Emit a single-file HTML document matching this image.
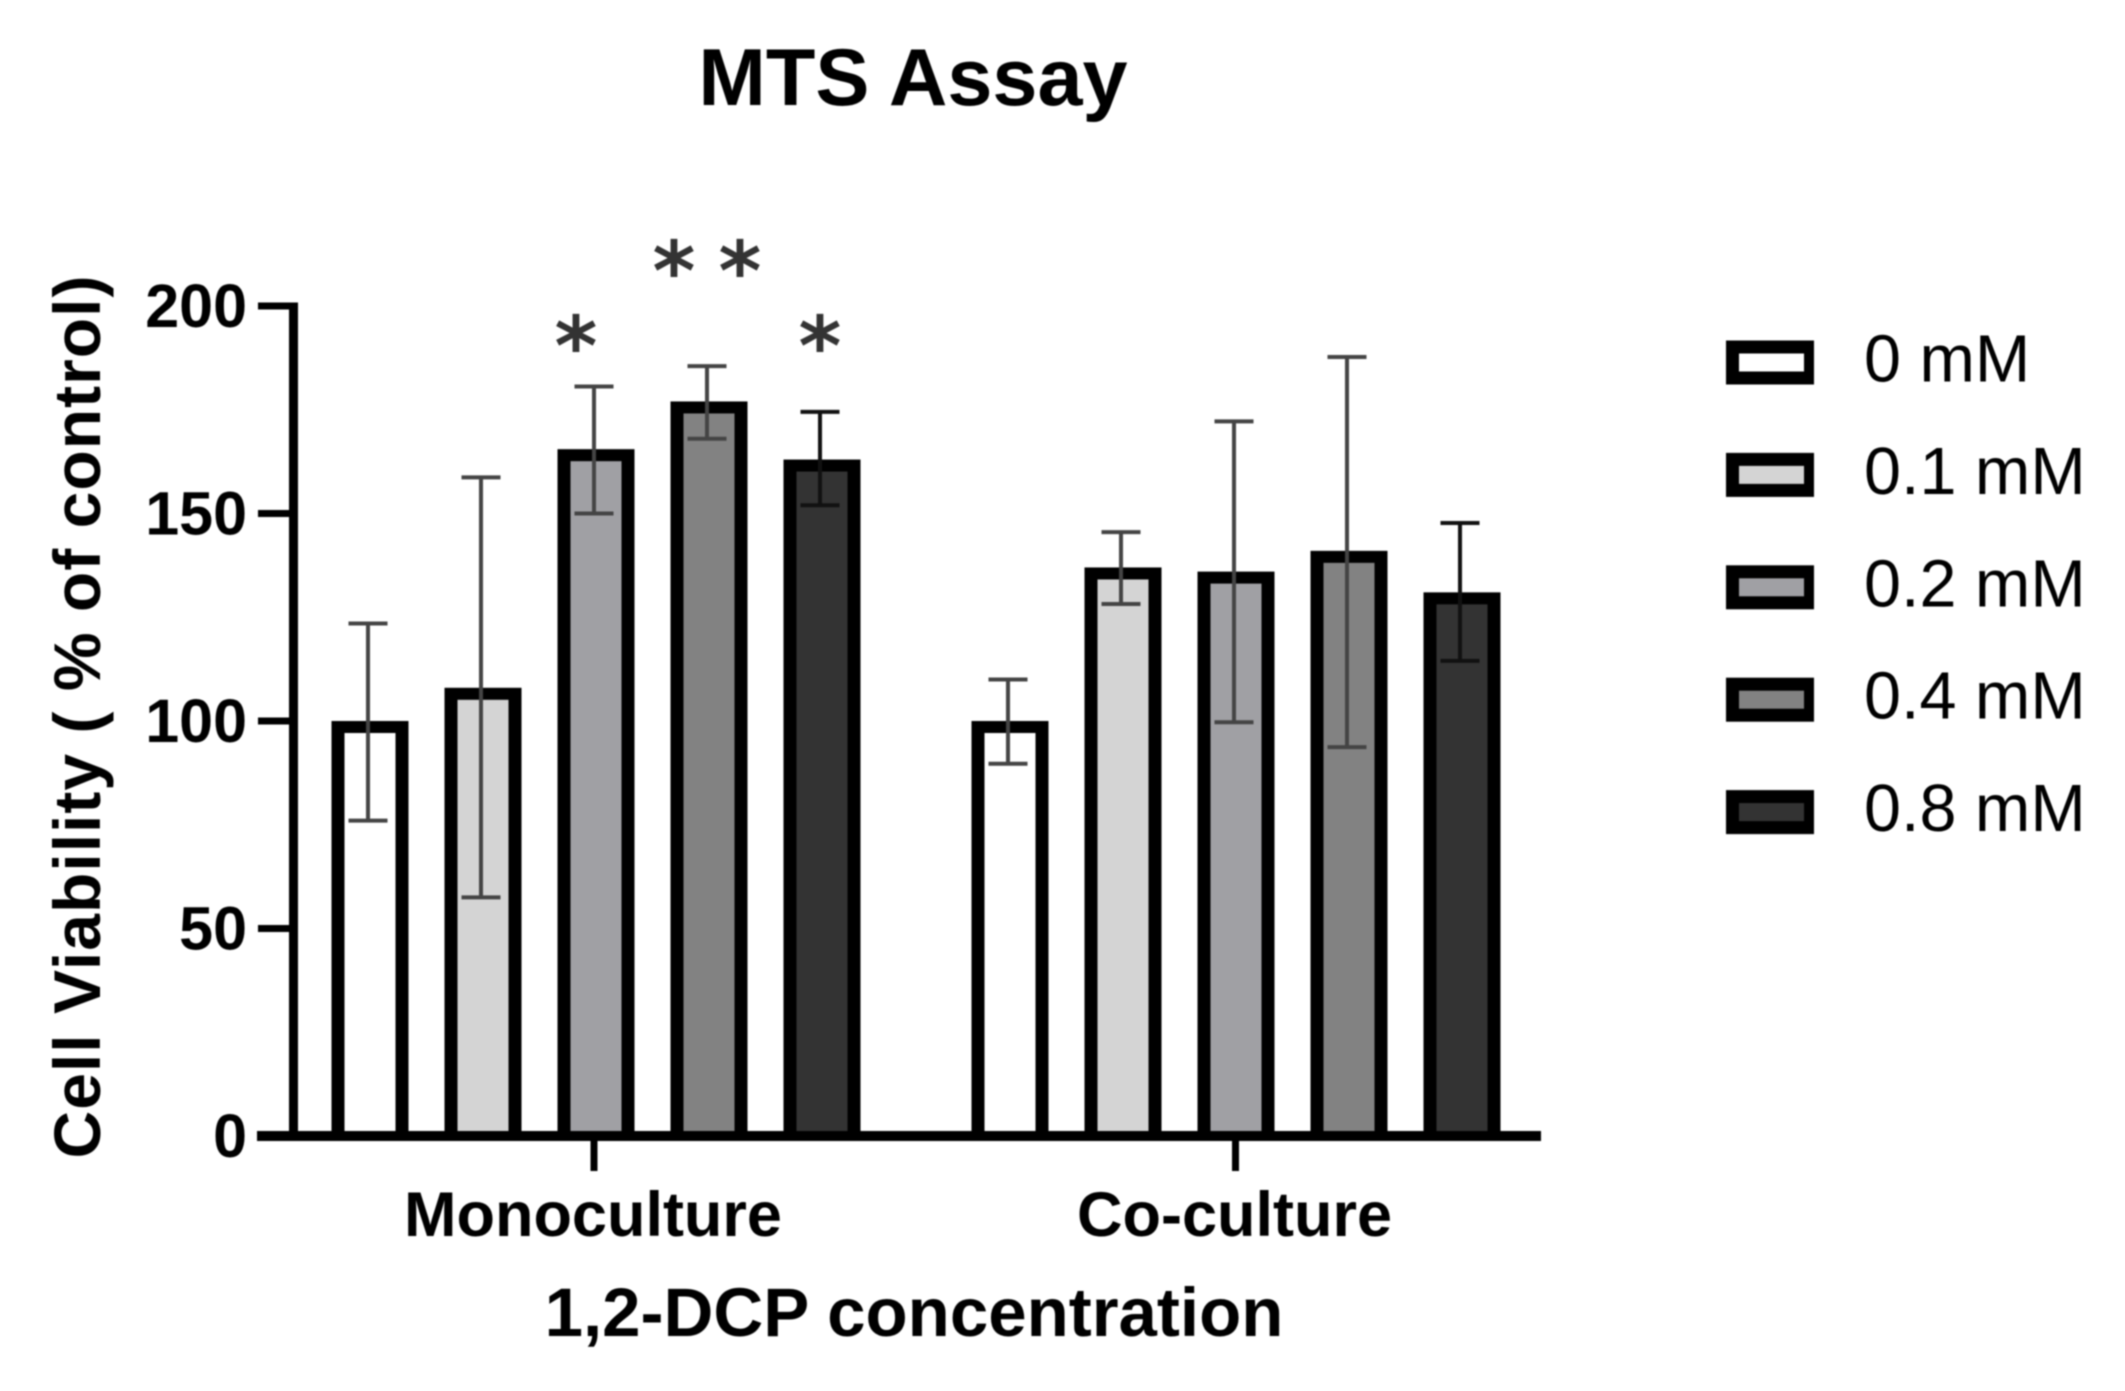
<!DOCTYPE html>
<html lang="en">
<head>
<meta charset="utf-8">
<title>MTS Assay</title>
<style>
html,body{margin:0;padding:0;background:#fff;}
svg{display:block;filter:blur(0.7px);}
text{font-family:"Liberation Sans",Arial,sans-serif;fill:#000;}
</style>
</head>
<body>
<svg id="chart" xmlns="http://www.w3.org/2000/svg" width="2125" height="1391" viewBox="0 0 2125 1391">
<rect x="0" y="0" width="2125" height="1391" fill="#ffffff"/>
<text x="913" y="105" font-size="81" font-weight="700" text-anchor="middle">MTS Assay</text>
<text transform="translate(100,717) rotate(-90)" font-size="66" font-weight="700" text-anchor="middle" textLength="883" lengthAdjust="spacing">Cell Viability ( % of control)</text>
<text x="914" y="1336" font-size="69" font-weight="700" text-anchor="middle">1,2-DCP concentration</text>
<g id="marks"></g>
<g id="axes"></g>
<g id="legend"></g>
</svg>
<script>
var groups = ['Monoculture', 'Co-culture'];
var doses = ['0 mM', '0.1 mM', '0.2 mM', '0.4 mM', '0.8 mM'];
var fills = ['#ffffff', '#d4d4d4', '#a0a0a4', '#828282', '#333333'];
var monoValues = [100, 108, 165.5, 177, 163];
var monoUpper = [123.5, 158.7, 180.6, 185.5, 174.5];
var monoLower = [76, 57.5, 150, 168, 152];
var cocoValues = [100, 137, 136, 141, 131];
var cocoUpper = [110, 145.5, 172.2, 187.7, 147.7];
var cocoLower = [89.7, 128.2, 99.7, 93.7, 114.5];
var monoSignificance = ['', '', '*', '* *', '*'];
var yTicks = [0, 50, 100, 150, 200];

var NS = 'http://www.w3.org/2000/svg';
var PLOT_BOTTOM = 1136, PLOT_TOP = 306;
var GROUP_CENTER = [594, 1235.5], BAR_ORIGIN = [596, 1236], BAR_STEP = 113, BAR_W = 77;
function yScale(v) { return PLOT_BOTTOM - (v / 200) * (PLOT_BOTTOM - PLOT_TOP); }
function xScale(g, i) { return BAR_ORIGIN[g] + (i - 2) * BAR_STEP; }
function mk(tag, attrs, parent) {
  var el = document.createElementNS(NS, tag);
  for (var k in attrs) el.setAttribute(k, attrs[k]);
  parent.appendChild(el);
  return el;
}
var marks = document.getElementById('marks');
var axes = document.getElementById('axes');
var legend = document.getElementById('legend');

function drawGroup(g, values, upper, lower) {
  values.forEach(function (v, i) {
    var cx = xScale(g, i), top = yScale(v), left = cx - BAR_W / 2;
    var bar = mk('rect', { x: left, y: top, width: BAR_W, height: PLOT_BOTTOM - top, fill: '#000' }, marks);
    
    
    var inner = mk('rect', { x: left + 13, y: top + 12, width: BAR_W - 26, height: Math.max(0, PLOT_BOTTOM - top - 12), fill: fills[i] }, marks);
    
    
    var yu = yScale(upper[i]), yl = yScale(lower[i]);
    var color = i === 4 ? '#111' : '#444';
    var stem = mk('line', { x1: cx - 2, x2: cx - 2, y1: yu, y2: yl, stroke: color, 'stroke-width': 4 }, marks);
    
    
    var capU = mk('line', { x1: cx - 21.5, x2: cx + 17.5, y1: yu, y2: yu, stroke: color, 'stroke-width': 4 }, marks);
    
    
    var capL = mk('line', { x1: cx - 21.5, x2: cx + 17.5, y1: yl, y2: yl, stroke: color, 'stroke-width': 4 }, marks);
    
    
  });
}
drawGroup(0, monoValues, monoUpper, monoLower);
drawGroup(1, cocoValues, cocoUpper, cocoLower);

monoSignificance.forEach(function (s, i) {
  if (!s) return;
  var stars = s.split(' ');
  var shift = i === 2 ? -20 : -2;
  stars.forEach(function (ch, k) {
    var offset = stars.length > 1 ? (k === 0 ? -33 : 33) : 0;
    var t = mk('text', {
      x: xScale(0, i) + shift + offset,
      y: stars.length > 1 ? 300 : 375,
      'font-size': 82, 'font-weight': 700, 'text-anchor': 'middle',
      style: 'fill:#333;font-family:"DejaVu Sans",sans-serif'
    }, marks);
    t.textContent = ch;
    
    
  });
});

var yLine = mk('rect', { x: 289, y: PLOT_TOP - 3.5, width: 9, height: PLOT_BOTTOM - PLOT_TOP + 3.5, fill: '#000' }, axes);


var xLine = mk('rect', { x: 257, y: PLOT_BOTTOM - 5, width: 1284, height: 10, fill: '#000' }, axes);



yTicks.forEach(function (v) {
  var y = yScale(v);
  var tick = mk('rect', { x: 258, y: y - 3.5, width: 32, height: 7, fill: '#000' }, axes);
  
  
  var lab = mk('text', { x: 247, y: y + 21, 'font-size': 61, 'font-weight': 700, 'text-anchor': 'end' }, axes);
  lab.textContent = v;
  
  
});

groups.forEach(function (name, g) {
  var cx = GROUP_CENTER[g];
  var tick = mk('rect', { x: cx - 3.5, y: PLOT_BOTTOM, width: 7, height: 35, fill: '#000' }, axes);
  
  
  var lab = mk('text', { x: cx - 1, y: 1236, 'font-size': 63, 'font-weight': 700, 'text-anchor': 'middle' }, axes);
  lab.textContent = name;
  
  
});

doses.forEach(function (d, i) {
  var cy = 362.5 + i * 112.4;
  var sw = mk('rect', { x: 1726, y: cy - 22, width: 88, height: 44, fill: '#000' }, legend);
  
  
  var inner = mk('rect', { x: 1739, y: cy - 9, width: 65, height: 18, fill: fills[i] }, legend);
  
  
  var lab = mk('text', { x: 1864, y: cy + 19, 'font-size': 66.5 }, legend);
  lab.textContent = d;
  
  
});
</script>
</body>
</html>
